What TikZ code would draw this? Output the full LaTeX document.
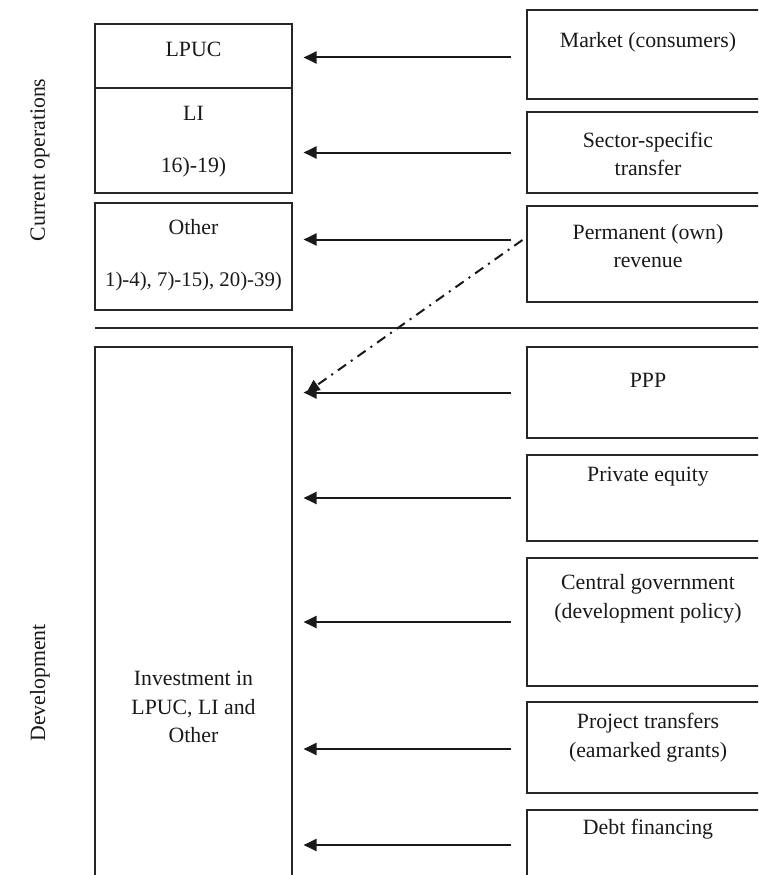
\documentclass[tikz,border=0pt]{standalone}
\usepackage{fontspec}
\setmainfont{Liberation Serif}
\usetikzlibrary{arrows.meta,calc}
\begin{document}
\begin{tikzpicture}[x=1pt,y=-1pt,
  box/.style={draw=black!85, line width=1.1pt, inner sep=0pt},
  lbox/.style={box, minimum width=197pt},
  rbox/.style={box, minimum width=242pt},
  txt/.style={font=\fontsize{21.8}{28.8}\selectfont, align=center, inner sep=0pt, text=black!90},
  arr/.style={line width=2pt, draw=black!90, -{Triangle[length=13pt,width=12pt]}, shorten >=11pt},
  dd/.style={line width=2pt, draw=black!90, dash pattern=on 10pt off 6pt on 2pt off 6pt, -{Triangle[length=13pt,width=12pt]}},
]
\useasboundingbox (0,0) rectangle (758,875);
\clip (0,0) rectangle (758,875);

% left boxes
\node[lbox, minimum height=64pt]  (lpuc)  at (193.5,56) {};
\node[lbox, minimum height=105pt] (li)    at (193.5,140.5) {};
\node[lbox, minimum height=107pt] (other) at (193.5,256.5) {};
\node[lbox, minimum height=548pt] (big)   at (193.5,621) {};

% right boxes
\node[rbox, minimum height=89pt]  (mkt)  at (648,54.5) {};
\node[rbox, minimum height=81pt]  (sec)  at (648,152.5) {};
\node[rbox, minimum height=96pt]  (perm) at (648,254) {};
\node[rbox, minimum height=91pt]  (ppp)  at (648,392.5) {};
\node[rbox, minimum height=86pt]  (pe)   at (648,498) {};
\node[rbox, minimum height=128pt] (cg)   at (648,622) {};
\node[rbox, minimum height=91pt]  (pt)   at (648,747.5) {};
\node[rbox, minimum height=80pt]  (debt) at (648,850) {};

% separator
\draw[box] (95,328) -- (762,328);

% texts left
\node[txt] (tlpuc) at (193.5,49) {LPUC};
\node[txt] (tli)   at (193.5,113) {LI};
\node[txt] (tlin)  at (193.5,167) {16)-19)};
\node[txt] (toth)  at (193.5,227) {Other};
\node[txt, font=\fontsize{20.8}{28.8}\selectfont] (tothn) at (193.5,281) {1)-4), 7)-15), 20)-39)};
\node[txt] (tbig)  at (193.5,707) {Investment in\\LPUC, LI and\\Other};

% texts right
\node[txt] (tmkt)  at (648,42) {Market (consumers)};
\node[txt] (tsec)  at (648,154) {Sector-specific\\transfer};
\node[txt] (tperm) at (648,246) {Permanent (own)\\revenue};
\node[txt] (tppp)  at (648,380) {PPP};
\node[txt] (tpe)   at (648,477) {Private equity};
\node[txt] (tcg)   at (648,599) {Central government\\(development policy)};
\node[txt] (tpt)   at (648,738) {Project transfers\\(eamarked grants)};
\node[txt] (tdebt) at (648,829) {Debt financing};

% side labels
\node[txt, rotate=90] (lcur) at (40,160) {Current operations};
\node[txt, rotate=90] (ldev) at (40,683) {Development};

% arrows
\coordinate (a1) at ([xshift=-15pt,yshift=-3pt]mkt.west);
\coordinate (a2) at ([xshift=-15pt]sec.west);
\coordinate (a3) at ([xshift=-15pt,yshift=14.5pt]perm.west);
\coordinate (a4) at ([xshift=-15pt]ppp.west);
\coordinate (a5) at ([xshift=-15pt]pe.west);
\coordinate (a6) at ([xshift=-15pt]cg.west);
\coordinate (a7) at ([xshift=-15pt,yshift=-1.5pt]pt.west);
\coordinate (a8) at ([xshift=-15pt,yshift=5pt]debt.west);
\draw[arr] (a1) -- (a1 -| lpuc.east);
\draw[arr] (a2) -- (a2 -| li.east);
\draw[arr] (a3) -- (a3 -| other.east);
\draw[arr] (a4) -- (a4 -| big.east);
\draw[arr] (a5) -- (a5 -| big.east);
\draw[arr] (a6) -- (a6 -| big.east);
\draw[arr] (a7) -- (a7 -| big.east);
\draw[arr] (a8) -- (a8 -| big.east);

% dash-dot arrow
\coordinate (d1) at ([xshift=-4pt,yshift=14pt]perm.west);
\coordinate (d2) at ($(ppp.west -| big.east)+(14pt,0)$);
\draw[dd] (d1) -- (d2);
\end{tikzpicture}
\end{document}
